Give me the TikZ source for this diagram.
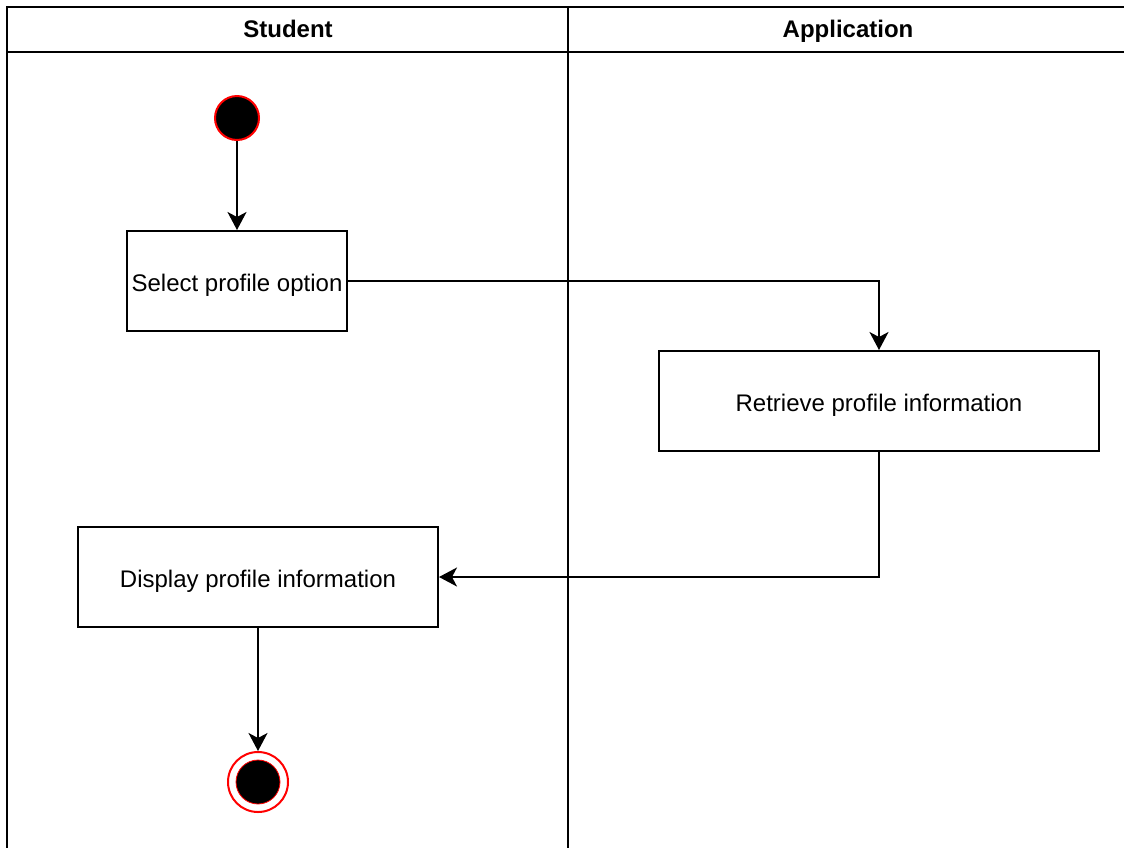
\documentclass[tikz,border=0pt]{standalone}
\usepackage{fontspec}
\setmainfont{Liberation Sans}
\usetikzlibrary{arrows.meta}
\begin{document}
\begin{tikzpicture}[x=1pt,y=-1pt,
  lane/.style={line width=2.6pt,line cap=rect},
  action/.style={draw,line width=2pt,minimum height=100pt,inner sep=0pt,
    text height=20pt,text depth=0pt,font=\fontsize{24}{28}\selectfont},
  head/.style={anchor=base,font=\fontsize{24}{28}\selectfont\bfseries},
  flow/.style={line width=1.9pt,-{Stealth[length=18pt,width=19pt,inset=5pt]}},
  startst/.style={circle,fill=black,draw=red,line width=2pt,minimum size=44pt,inner sep=0pt},
  endouter/.style={circle,fill=white,draw=red,line width=2pt,minimum size=60pt,inner sep=0pt},
  endinner/.style={circle,fill=black,draw=red,line width=0.8pt,minimum size=44pt,inner sep=0pt}]
\useasboundingbox (0,0) rectangle (1124,847);
\fill[white] (0,0) rectangle (1124,847);

% swimlane frame
\draw[lane] (7,847) -- (7,7) -- (1124,7);
\draw[lane] (7,52) -- (1124,52);
\draw[lane] (568,7) -- (568,847);
\node[head] (hstu) at (288,37.5) {Student};
\node[head] (happ) at (848,37.5) {Application};

% states and actions
\node[startst] (start) at (237,118) {};
\node[action,minimum width=220pt] (select) at (237,281) {Select profile option};
\node[action,minimum width=440pt] (retrieve) at (879,401) {Retrieve profile information};
\node[action,minimum width=360pt] (display) at (258,577) {Display profile information};
\node[endouter] (endo) at (258,782) {};
\node[endinner] (endi) at (258,782) {};

% control flow
\draw[flow] (start) -- (select);
\draw[flow] (select.east) -| (retrieve.north);
\draw[flow] (retrieve.south) |- (display.east);
\draw[flow] (display) -- (endo);
\end{tikzpicture}
\end{document}
